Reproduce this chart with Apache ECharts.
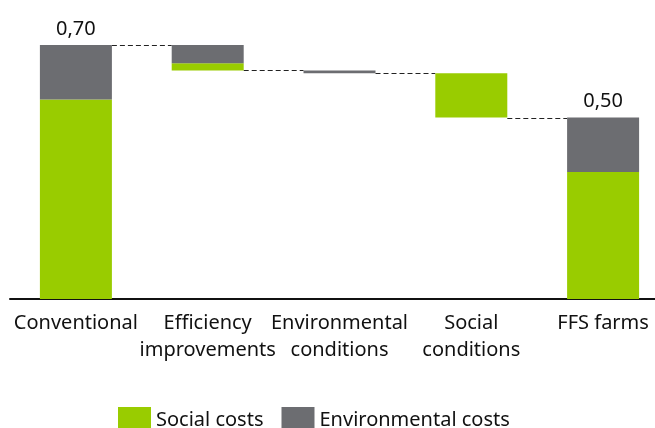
<!DOCTYPE html>
<html>
<head>
<meta charset="utf-8">
<script src="https://cdn.jsdelivr.net/npm/echarts@6/dist/echarts.min.js"></script>
<style>
  html, body { margin: 0; padding: 0; background: #fff; }
  #chart { width: 655px; height: 428px; }
</style>
</head>
<body>
<div id="chart"></div>
<script>
// waterfall: cost per unit, conventional -> FFS farms
const categories = ['Conventional', 'Efficiency\nimprovements', 'Environmental\nconditions', 'Social\nconditions', 'FFS farms']
const socialCosts = [0.55, 0.02, 0, 0.122, 0.35]
const envCosts = [0.15, 0.05, 0.008, 0, 0.15]

const GREEN = '#99cc00'
const GREY = '#6c6d71'
const FONT = 'Noto Sans'

// invisible base for the floating steps
const last = categories.length - 1
const base = []
let running = socialCosts[0] + envCosts[0]
categories.forEach((c, i) => {
  if (i === 0 || i === last) {
    base.push(0)
  } else {
    running -= socialCosts[i] + envCosts[i]
    base.push(+running.toFixed(4))
  }
})

// connector levels: top of first bar, then bottom of each step
const connectors = []
for (let i = 0; i < last; i++) {
  const level = i === 0 ? socialCosts[0] + envCosts[0] : base[i]
  connectors.push([i, level])
}

const BAR_WIDTH = 72

const chart = echarts.init(document.getElementById('chart'))
chart.setOption({
  animation: false,
  backgroundColor: '#fff',
  grid: {
    left: 10,
    top: 45,
    width: 659,
    height: 254,
    outerBoundsMode: 'none',
    containLabel: false
  },
  legend: {
    left: 118,
    top: 407,
    padding: 0,
    icon: 'rect',
    itemWidth: 33,
    itemHeight: 27,
    itemGap: 18,
    data: ['Social costs', 'Environmental costs'],
    textStyle: { fontFamily: FONT, fontSize: 20, color: '#111' }
  },
  xAxis: {
    type: 'category',
    data: categories,
    axisTick: { show: false },
    axisLine: { lineStyle: { color: '#111', width: 2 } },
    axisLabel: {
      interval: 0,
      margin: 11,
      fontFamily: FONT,
      fontSize: 20,
      lineHeight: 27,
      color: '#111'
    }
  },
  yAxis: {
    type: 'value',
    min: 0,
    max: 0.7,
    show: false,
    splitLine: { show: false }
  },
  series: [
    {
      name: 'base',
      type: 'bar',
      stack: 'total',
      barWidth: BAR_WIDTH,
      silent: true,
      itemStyle: { color: 'transparent' },
      data: base
    },
    {
      name: 'Social costs',
      type: 'bar',
      stack: 'total',
      barWidth: BAR_WIDTH,
      itemStyle: { color: GREEN },
      data: socialCosts
    },
    {
      name: 'Environmental costs',
      type: 'bar',
      stack: 'total',
      barWidth: BAR_WIDTH,
      itemStyle: { color: GREY },
      label: {
        show: true,
        position: 'top',
        distance: 6,
        fontFamily: FONT,
        fontSize: 20,
        color: '#111',
        formatter: p => {
          const i = p.dataIndex
          if (i !== 0 && i !== last) return ''
          return (socialCosts[i] + envCosts[i]).toFixed(2).replace('.', ',')
        }
      },
      data: envCosts
    },
    {
      name: 'connectors',
      type: 'custom',
      silent: true,
      encode: { x: 0, y: 1 },
      data: connectors,
      renderItem: (params, api) => {
        const i = api.value(0)
        const level = api.value(1)
        const p1 = api.coord([i, level])
        const p2 = api.coord([i + 1, level])
        const half = BAR_WIDTH / 2
        const y = Math.round(p1[1]) + 0.5
        return {
          type: 'line',
          shape: { x1: p1[0] + half, y1: y, x2: p2[0] - half, y2: y },
          style: { stroke: '#222', lineWidth: 1, lineDash: [5, 3] }
        }
      }
    }
  ]
})
</script>
</body>
</html>
